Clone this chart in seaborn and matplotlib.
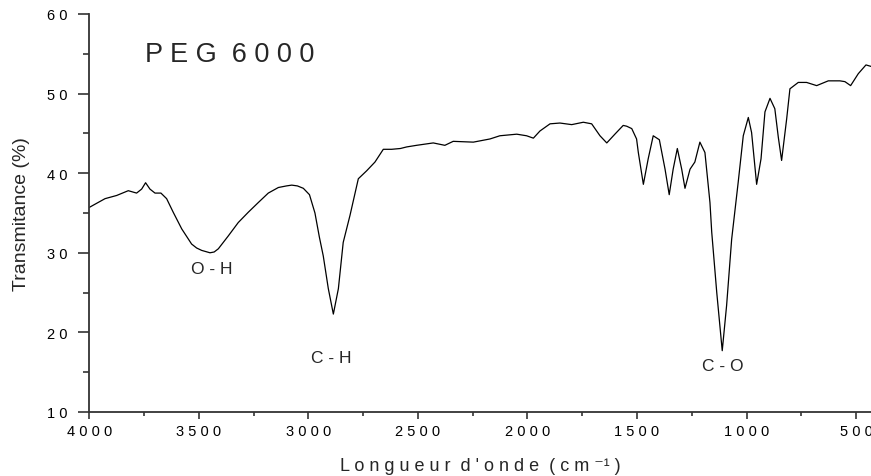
import numpy as np
import pandas as pd
import matplotlib
matplotlib.use("Agg")
import matplotlib.pyplot as plt
from matplotlib.ticker import MultipleLocator, FixedLocator, FixedFormatter
import seaborn as sns

# FTIR spectrum of PEG 6000: wavenumber (cm-1) and transmittance (%)
wavenumber = [4000, 3974, 3928, 3875, 3822, 3784, 3761, 3743, 3723, 3700,
              3673, 3647, 3617, 3578, 3533, 3510, 3487, 3449, 3430, 3411,
              3366, 3320, 3274, 3229, 3183, 3137, 3100, 3076, 3050, 3023,
              2995, 2970, 2950, 2932, 2909, 2886, 2863, 2841, 2810, 2772,
              2734, 2696, 2658, 2620, 2580, 2551, 2506, 2430, 2377, 2339,
              2247, 2171, 2126, 2049, 2004, 1973, 1943, 1897, 1852, 1798,
              1745, 1707, 1669, 1638, 1601, 1563, 1547, 1524, 1502, 1494,
              1471, 1449, 1426, 1398, 1372, 1353, 1335, 1316, 1296, 1281,
              1258, 1236, 1213, 1190, 1167, 1159, 1136, 1111, 1091, 1068,
              1038, 1015, 992, 977, 954, 934, 916, 893, 871, 855,
              840, 817, 802, 764, 726, 680, 627, 574, 551, 525,
              490, 455, 430]
transmittance = [35.7, 36.1, 36.8, 37.2, 37.8, 37.5, 38.0, 38.8, 38.0, 37.5,
                 37.5, 36.8, 35.1, 33.0, 31.1, 30.6, 30.3, 30.0, 30.1, 30.5,
                 32.1, 33.8, 35.1, 36.3, 37.5, 38.2, 38.4, 38.5, 38.4, 38.1,
                 37.3, 35.0, 32.0, 29.6, 25.5, 22.3, 25.5, 31.3, 34.7, 39.3,
                 40.3, 41.4, 43.0, 43.0, 43.1, 43.3, 43.5, 43.8, 43.5, 44.0,
                 43.9, 44.3, 44.7, 44.9, 44.7, 44.4, 45.3, 46.2, 46.3, 46.1,
                 46.4, 46.2, 44.7, 43.8, 44.9, 46.0, 45.9, 45.6, 44.3, 42.6,
                 38.6, 41.8, 44.7, 44.2, 40.5, 37.3, 40.5, 43.1, 40.5, 38.1,
                 40.5, 41.4, 43.9, 42.6, 36.3, 32.6, 25.0, 17.7, 23.4, 31.7,
                 38.9, 44.7, 47.0, 45.1, 38.6, 41.8, 47.7, 49.4, 48.1, 44.5,
                 41.6, 46.8, 50.6, 51.4, 51.4, 51.0, 51.6, 51.6, 51.5, 51.0,
                 52.5, 53.6, 53.4]

x_ticks = [4000, 3500, 3000, 2500, 2000, 1500, 1000, 500]
y_ticks = [10, 20, 30, 40, 50, 60]

band_labels = ["O - H", "C - H", "C - O"]
band_pos = [(3440, 28.0), (2897, 16.9), (1108, 15.8)]

df = pd.DataFrame({"wn": wavenumber, "T": transmittance})

sns.set_style("ticks")
FONT = ["Liberation Sans", "DejaVu Sans"]
plt.rcParams["font.family"] = FONT
plt.rcParams["axes.edgecolor"] = "#333333"

fig = plt.figure(figsize=(8.71, 4.77), dpi=100)
ax = fig.add_axes([0.1025, 0.1342, 0.8975, 0.8344])

sns.lineplot(data=df, x="wn", y="T", sort=False, estimator=None,
             color="black", linewidth=0.9, ax=ax)

ax.set_xlim(4000, 432)
ax.set_ylim(10, 60)

def spaced(s, sep=" "):
    return sep.join(s)

ax.xaxis.set_major_locator(FixedLocator(x_ticks))
ax.xaxis.set_major_formatter(FixedFormatter([spaced(str(v)) for v in x_ticks]))
ax.xaxis.set_minor_locator(MultipleLocator(250))
ax.yaxis.set_major_locator(FixedLocator(y_ticks))
ax.yaxis.set_major_formatter(FixedFormatter([spaced(str(v)) for v in y_ticks]))
ax.yaxis.set_minor_locator(MultipleLocator(5))

for side in ["top", "right"]:
    ax.spines[side].set_visible(False)
for side in ["left", "bottom"]:
    ax.spines[side].set_linewidth(1.3)

ax.tick_params(axis="x", which="major", direction="out", length=5, width=1.2,
               labelsize=10.5, pad=4, colors="#333333", labelcolor="black")
ax.tick_params(axis="x", which="minor", direction="out", length=3, width=1.2,
               colors="#333333")
ax.tick_params(axis="y", which="major", direction="out", length=8, width=1.2,
               labelsize=10.5, pad=8, colors="#333333", labelcolor="black")
ax.tick_params(axis="y", which="minor", direction="out", length=4.5, width=1.2,
               colors="#333333")

ax.set_xlabel("L o n g u e u r  d ' o n d e  ( c m \u207b\u00b9 )",
              fontsize=13, labelpad=13)
ax.set_ylabel("Transmitance (%)", fontsize=14, labelpad=12)

ax.text(3746, 55.0, "P E G  6 0 0 0", fontsize=19.5, ha="left", va="center")
for lab, (bx, by) in zip(band_labels, band_pos):
    ax.text(bx, by, lab, fontsize=12.5, ha="center", va="center")

ax.grid(False)
fig.savefig("out.png", dpi=100)
